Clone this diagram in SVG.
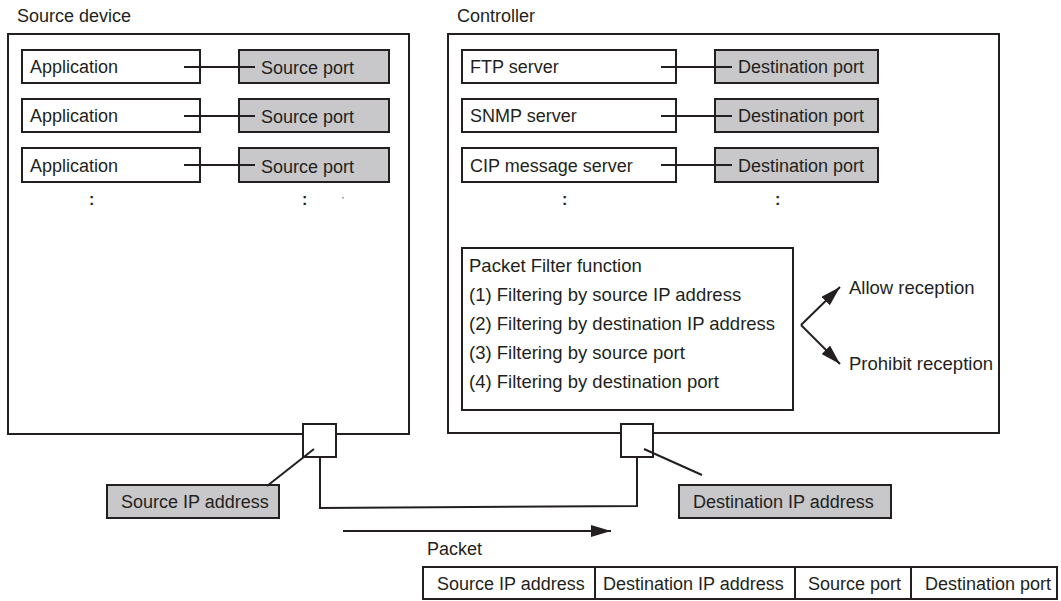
<svg xmlns="http://www.w3.org/2000/svg" width="1061" height="601" viewBox="0 0 1061 601">
<style>
text{font-family:"Liberation Sans",Arial,sans-serif;font-size:18px;fill:#231f20}
.ft{font-size:18.5px}
.box{fill:#fff;stroke:#231f20;stroke-width:2}
.gbox{fill:#c8c8ca;stroke:#231f20;stroke-width:2}
.ln{fill:none;stroke:#231f20;stroke-width:2}
.dots{font-weight:bold;font-size:16px}
</style>
<defs>
<marker id="ah" markerWidth="20" markerHeight="12" refX="20" refY="6" orient="auto" markerUnits="userSpaceOnUse">
<path d="M0,0 L20,6 L0,12 Z" fill="#231f20"/>
</marker>
</defs>
<g id="source-device">
<rect class="box" x="8" y="34" width="401" height="400"/>
<text x="17" y="22">Source device</text>
</g>
<g id="controller">
<rect class="box" x="448" y="34" width="551" height="399"/>
<text x="457" y="22">Controller</text>
</g>
<g id="app1"><rect class="box" x="22" y="50" width="178" height="33"/><text x="30" y="73">Application</text></g>
<g id="app2"><rect class="box" x="22" y="99" width="178" height="33"/><text x="30" y="122">Application</text></g>
<g id="app3"><rect class="box" x="22" y="148" width="178" height="34"/><text x="30" y="172">Application</text></g>
<g id="sport1"><rect class="gbox" x="239" y="50" width="150" height="33"/><text x="261" y="74">Source port</text></g>
<g id="sport2"><rect class="gbox" x="239" y="99" width="150" height="33"/><text x="261" y="123">Source port</text></g>
<g id="sport3"><rect class="gbox" x="239" y="148" width="150" height="34"/><text x="261" y="173">Source port</text></g>
<g id="ftp"><rect class="box" x="462" y="50" width="214" height="33"/><text x="470" y="73">FTP server</text></g>
<g id="snmp"><rect class="box" x="462" y="99" width="214" height="33"/><text x="470" y="122">SNMP server</text></g>
<g id="cip"><rect class="box" x="462" y="148" width="214" height="34"/><text x="470" y="172">CIP message server</text></g>
<g id="dport1"><rect class="gbox" x="715" y="50" width="163" height="33"/><text x="738" y="73">Destination port</text></g>
<g id="dport2"><rect class="gbox" x="715" y="99" width="163" height="33"/><text x="738" y="122">Destination port</text></g>
<g id="dport3"><rect class="gbox" x="715" y="148" width="163" height="34"/><text x="738" y="172">Destination port</text></g>
<g id="ellipsis">
<text class="dots" x="89" y="205">:</text>
<text class="dots" x="302" y="205">:</text>
<text class="dots" x="562" y="205">:</text>
<text class="dots" x="775" y="205">:</text>
<rect x="342.5" y="197" width="1" height="1.5" fill="#555"/>
</g>
<g id="packet-filter">
<rect class="box" x="462" y="248" width="331" height="162"/>
<text class="ft" x="469" y="272">Packet Filter function</text>
<text class="ft" x="469" y="301">(1) Filtering by source IP address</text>
<text class="ft" x="469" y="330">(2) Filtering by destination IP address</text>
<text class="ft" x="469" y="359">(3) Filtering by source port</text>
<text class="ft" x="469" y="388">(4) Filtering by destination port</text>
</g>
<g id="allow"><text class="ft" x="849" y="294">Allow reception</text></g>
<g id="prohibit"><text class="ft" x="849" y="370">Prohibit reception</text></g>
<g id="src-if"><rect class="box" x="303" y="424" width="33" height="33"/></g>
<g id="dst-if"><rect class="box" x="621" y="424" width="32" height="33"/></g>
<g id="src-ip"><rect class="gbox" x="107" y="485" width="172" height="33"/><text x="121" y="508">Source IP address</text></g>
<g id="dst-ip"><rect class="gbox" x="679" y="485" width="212" height="33"/><text x="693" y="508">Destination IP address</text></g>
<g id="packet">
<text x="427" y="555">Packet</text>
<rect class="box" x="423" y="567" width="634" height="32"/>
<line class="ln" x1="595" y1="567" x2="595" y2="599"/>
<line class="ln" x1="795" y1="567" x2="795" y2="599"/>
<line class="ln" x1="911" y1="567" x2="911" y2="599"/>
<text x="437" y="590">Source IP address</text>
<text x="603" y="590">Destination IP address</text>
<text x="808" y="590">Source port</text>
<text x="925" y="590">Destination port</text>
</g>
<g id="connectors">
<line class="ln" x1="184" y1="67" x2="255" y2="67"/>
<line class="ln" x1="184" y1="116" x2="255" y2="116"/>
<line class="ln" x1="184" y1="165" x2="255" y2="165"/>
<line class="ln" x1="661" y1="67" x2="732" y2="67"/>
<line class="ln" x1="661" y1="116" x2="732" y2="116"/>
<line class="ln" x1="661" y1="165" x2="732" y2="165"/>
<polyline class="ln" points="320,457 320,508 637,506 637,457"/>
<line class="ln" x1="314" y1="449" x2="267" y2="486"/>
<line class="ln" x1="644" y1="449" x2="702" y2="475"/>
<line class="ln" x1="801" y1="325" x2="840" y2="287" marker-end="url(#ah)"/>
<line class="ln" x1="801" y1="325" x2="840" y2="364" marker-end="url(#ah)"/>
<line class="ln" x1="343" y1="531" x2="611" y2="531" marker-end="url(#ah)"/>
</g>
</svg>
